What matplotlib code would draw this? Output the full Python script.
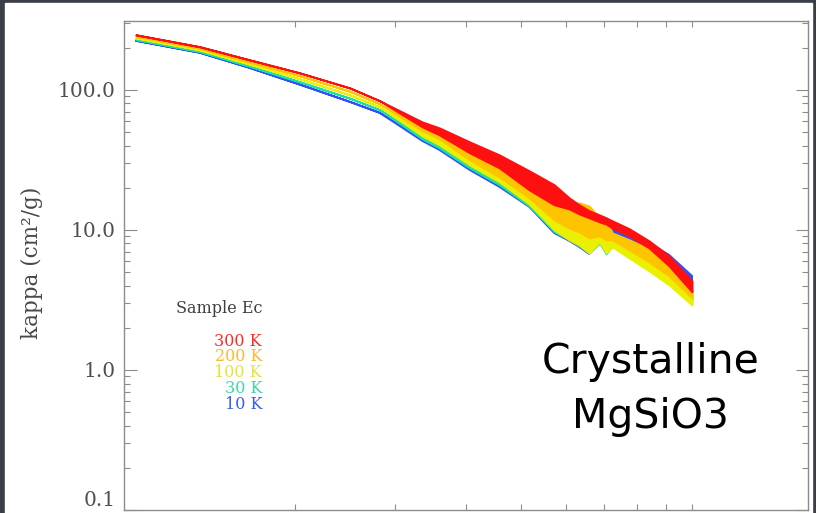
import matplotlib
matplotlib.use("Agg")
import matplotlib.pyplot as plt
import numpy as np
from matplotlib.patches import Rectangle
from matplotlib.ticker import FixedLocator, LogLocator, NullFormatter, FuncFormatter

plt.rcParams["font.family"] = "DejaVu Serif"

nan = np.nan

# wavelength grid (micron)
wavelength = [105, 136, 166, 204, 250, 282, 335, 359, 406, 458, 517, 572,
              608, 633, 659, 687, 706, 724, 775, 840, 911, 1000]

# upper / lower envelope of kappa (cm^2/g) for each temperature
k300_hi = [247, 203, 164, 132, 103, 83.5, 59.0, 53.5, 42.5, 34.3, 26.4, 21.0,
           16.9, 15.1, 13.7, 12.8, 12.2, 11.6, 10.2, 8.35, 6.52, 4.32]
k300_lo = [247, 203, 164, 132, 103, 83.5, 54.4, 47.7, 35.5, 27.7, 19.3, 15.1,
           14.1, 13.0, 12.2, 11.4, 11.0, 10.3, 9.06, 7.44, 5.53, 3.61]
k200_hi = [241, 198, 158, 126, 97.5, 79.4, 54.4, 47.7, 36.7, 28.7, 19.9, 15.6,
           14.8, 15.6, 14.8, 12.2, 11.6, 9.5, 8.5, 7.32, 5.81, 3.73]
k200_lo = [241, 198, 158, 126, 97.5, 79.4, 51.0, 44.7, 31.6, 23.9, 16.9, 11.8,
           10.3, 9.67, 8.77, 9.06, 8.5, 8.5, 7.2, 5.91, 4.69, 3.27]
k100_hi = [235, 193, 153, 120, 92, 75.6, 51.0, 44.7, 33.8, 26.0, 18.1, 13.9,
           13.5, 13.0, 12.2, 11.4, 11.0, 9.06, 7.8, 6.63, 5.18, 3.38]
k100_lo = [235, 193, 153, 120, 92, 75.6, 46.9, 40.5, 29.1, 22.0, 15.3, 10.0,
           8.5, 7.8, 6.85, 8.2, 6.85, 7.56, 6.31, 5.1, 4.05, 2.91]
k30_hi = [229, 188, 148, 114, 87, 72, 46.9, 40.5, 29.6, 22.4, 15.6, 10.3,
          9.06, 8.2, 7.44, 8.62, 7.32, 8.5, 7.2, 5.91, 4.69, 3.49]
k30_lo = [229, 188, 148, 114, 87, 72, 44.7, 38.5, 27.7, 21.0, 14.8, 9.7,
          8.5, 7.69, 6.85, 8.08, 6.74, 7.69, 6.52, 5.35, 4.25, 3.16]
k10_hi = [224, 184, 144, 109, 82, 68.5, 45.4, 39.2, 28.7, 21.7, 15.1, 10.2,
          8.9, 8.08, 7.32, 8.5, nan, 10.3, 9.21, 8.08, 6.63, 4.69]
k10_lo = [224, 184, 144, 109, 82, 68.5, 43.2, 37.3, 26.8, 20.3, 14.6, 9.5,
          8.35, 7.56, 6.74, 7.94, nan, 9.5, 8.5, 7.32, 5.91, 4.11]

temps = ["10 K", "30 K", "100 K", "200 K", "300 K"]
bands = [(k10_lo, k10_hi), (k30_lo, k30_hi), (k100_lo, k100_hi),
         (k200_lo, k200_hi), (k300_lo, k300_hi)]
colors = ["#3050ff", "#20e0a0", "#eaf000", "#ffc400", "#ff1010"]
text_colors = ["#3c5cf0", "#3cd8a8", "#e4e43a", "#ffb836", "#ff2a2a"]

yticks = [0.1, 1.0, 10.0, 100.0]
xticks = [200, 300, 400, 500, 600, 700, 800, 900, 1000]

fig = plt.figure(figsize=(8.16, 5.13), dpi=100, facecolor="#3a3e46")
fig.patches.append(Rectangle((5 / 816, 0), 807 / 816, 510 / 513,
                             transform=fig.transFigure, color="white",
                             zorder=-10))

ax = fig.add_axes([124 / 816, 3 / 513, 684 / 816, 489 / 513])
ax.set_xscale("log")
ax.set_yscale("log")

# coldest drawn first, 300 K ends up on top
for (lo, hi), c in zip(bands, colors):
    ax.fill_between(wavelength, lo, hi, color=c, lw=1.4)

ax.set_xlim(100, 1600)
ax.set_ylim(0.1, 310)

ax.xaxis.set_major_locator(FixedLocator(xticks))
ax.xaxis.set_minor_locator(FixedLocator([]))
ax.xaxis.set_major_formatter(NullFormatter())
ax.yaxis.set_major_locator(FixedLocator(yticks))
ax.yaxis.set_minor_locator(LogLocator(base=10, subs=range(2, 10)))
ax.yaxis.set_minor_formatter(NullFormatter())
ax.yaxis.set_major_formatter(FuncFormatter(lambda v, p: "%.1f" % v))

ax.tick_params(which="both", direction="in", top=True, right=True,
               color="#8c8c8c", width=0.8)
ax.tick_params(axis="x", which="major", length=4.5, labelbottom=False)
ax.tick_params(axis="y", which="major", length=9, labelsize=14.5,
               labelcolor="#505050", pad=6)
ax.tick_params(axis="y", which="minor", length=4.5)
for s in ax.spines.values():
    s.set_color("#8c8c8c")
    s.set_linewidth(1.0)

# keep the lowest label inside the figure
ax.yaxis.get_major_ticks()[0].label1.set_va("bottom")

fig.text(32 / 816, 1 - 263 / 513, "kappa (cm²/g)", rotation=90, ha="center",
         va="center", fontsize=15.5, color="#484848")

# legend
ax.text(0.2018, 0.413, "Sample Ec", ha="right", va="center", fontsize=11.5,
        color="#404040", transform=ax.transAxes)
for i, (t, c) in enumerate(zip(temps[::-1], text_colors[::-1])):
    ax.text(0.2018, 0.3456 - i * 0.0327, t, ha="right", va="center",
            fontsize=11.5, color=c, transform=ax.transAxes)

ax.text(0.770, 0.280, "Crystalline", ha="center", va="baseline",
        fontsize=29.5, family="DejaVu Sans", color="black", transform=ax.transAxes)
ax.text(0.770, 0.1677, "MgSiO3", ha="center", va="baseline",
        fontsize=29.5, family="DejaVu Sans", color="black", transform=ax.transAxes)

fig.savefig("out.png", dpi=100, facecolor=fig.get_facecolor())
